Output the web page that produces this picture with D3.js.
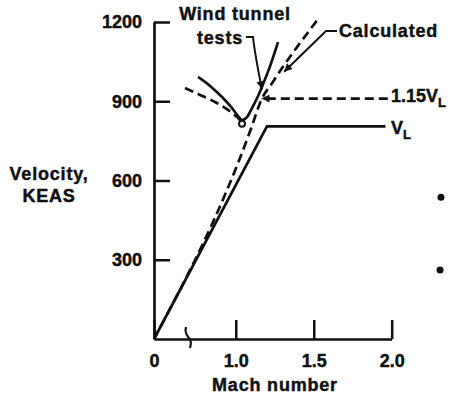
<!DOCTYPE html>
<html>
<head>
<meta charset="utf-8">
<script src="https://cdn.jsdelivr.net/npm/d3@7"></script>
<style>
  body { margin: 0; background: #fff; }
  text { font-family: "Liberation Sans", Arial, Helvetica, sans-serif; font-weight: bold; fill: #111; stroke: #111; stroke-width: 0.45px; }
</style>
</head>
<body>
<div id="chart"></div>
<script>
// data
const yTicks = [300, 600, 900, 1200];
const xTicks = [0, 1.0, 1.5, 2.0];

const vlMach = [0, 1.2, 1.96];
const vlKeas = [0, 805, 805];

const calcMach = [0, 1.10, 1.16, 1.24, 1.52];
const calcKeas = [0, 800, 900, 975, 1205];

const windMach = [0.758, 0.835, 0.912, 0.976, 1.014, 1.040, 1.072, 1.104, 1.143, 1.175, 1.220, 1.271];
const windKeas = [992, 958, 916, 874, 844, 829, 840, 874, 920, 965, 1033, 1124];

const vl115Mach = [0.62, 0.771, 0.867, 0.950, 1.008, 1.040];
const vl115Keas = [950, 924, 897, 867, 840, 821];
const vl115LineMach = [1.165, 1.975];
const vl115LineKeas = [910, 910];

const strayMach = [2.316, 2.31];
const strayKeas = [537, 261];

const W = 454, H = 402;
const svg = d3.select("#chart").append("svg")
  .attr("width", W)
  .attr("height", H);

// x axis is broken between 0 and ~0.7
const x = d3.scaleLinear().domain([0, 0.7, 2.0]).range([154, 189, 391.7]);
const y = d3.scaleLinear().domain([0, 1200]).range([339, 22]);

const zip = (a, b) => a.map((d, i) => [d, b[i]]);

svg.append("defs").append("marker")
  .attr("id", "head")
  .attr("viewBox", "0 0 10 10")
  .attr("refX", 10).attr("refY", 5)
  .attr("markerWidth", 11).attr("markerHeight", 8)
  .attr("markerUnits", "userSpaceOnUse")
  .attr("orient", "auto-start-reverse")
  .append("path")
    .attr("d", "M0,0 L10,5 L0,10 z")
    .attr("fill", "#111");

// axes
const yAxis = svg.append("g")
  .attr("transform", `translate(${x(0)},0)`)
  .call(d3.axisLeft(y).tickValues(yTicks).tickSize(-16).tickSizeOuter(0).tickPadding(12)
    .tickFormat(d3.format("d")));
const xAxis = svg.append("g")
  .attr("transform", `translate(0,${y(0)})`)
  .call(d3.axisBottom(x).tickValues(xTicks).tickSize(-19).tickSizeOuter(0).tickPadding(15)
    .tickFormat(d => d === 0 ? "0" : d.toFixed(1)));

[yAxis, xAxis].forEach(a => {
  a.select(".domain").attr("stroke", "#111").attr("stroke-width", 2.7);
  a.selectAll(".tick line").attr("stroke", "#111").attr("stroke-width", 2.5);
  a.selectAll(".tick text").style("font-size", "18px").attr("fill", "#111");
});

// axis break mark
svg.append("path")
  .attr("d", `M${x(0.7) - 3},${y(0) - 12} C${x(0.7) - 6},${y(0) - 1} ${x(0.7) + 5},${y(0) - 3} ${x(0.7) + 1},${y(0) + 9}`)
  .attr("fill", "none").attr("stroke", "#111").attr("stroke-width", 2.2);

// axis titles
svg.append("text").attr("x", 49).attr("y", 180).attr("text-anchor", "middle")
  .style("font-size", "18px").style("letter-spacing", "0.8px").text("Velocity,");
svg.append("text").attr("x", 49).attr("y", 202).attr("text-anchor", "middle")
  .style("font-size", "18px").style("letter-spacing", "0.8px").text("KEAS");
svg.append("text").attr("x", 275).attr("y", 391).attr("text-anchor", "middle")
  .style("font-size", "18px").style("letter-spacing", "0.8px").text("Mach number");

const line = d3.line().x(d => x(d[0])).y(d => y(d[1]));
const smooth = d3.line().x(d => x(d[0])).y(d => y(d[1])).curve(d3.curveMonotoneX);

// V_L
svg.append("path").datum(zip(vlMach, vlKeas))
  .attr("d", line).attr("fill", "none").attr("stroke", "#111").attr("stroke-width", 2.7);

// calculated
svg.append("path").datum(zip(calcMach, calcKeas))
  .attr("d", smooth).attr("fill", "none").attr("stroke", "#111").attr("stroke-width", 2.7)
  .attr("stroke-dasharray", "9,5");

// 1.15 V_L
svg.append("path").datum(zip(vl115Mach, vl115Keas))
  .attr("d", smooth).attr("fill", "none").attr("stroke", "#111").attr("stroke-width", 2.7)
  .attr("stroke-dasharray", "9,5");
svg.append("path").datum(zip(vl115LineMach, vl115LineKeas).reverse())
  .attr("d", line).attr("fill", "none").attr("stroke", "#111").attr("stroke-width", 2.7)
  .attr("stroke-dasharray", "9,5").attr("marker-end", "url(#head)");

// wind tunnel tests
svg.append("path").datum(zip(windMach, windKeas))
  .attr("d", smooth).attr("fill", "none").attr("stroke", "#111").attr("stroke-width", 2.7);
svg.append("circle")
  .attr("cx", x(1.04)).attr("cy", y(815)).attr("r", 3)
  .attr("fill", "#fff").attr("stroke", "#111").attr("stroke-width", 2);

// stray dots from the page
svg.selectAll(".stray").data(zip(strayMach, strayKeas)).join("circle")
  .attr("class", "stray")
  .attr("cx", d => x(d[0])).attr("cy", d => y(d[1])).attr("r", 3.5).attr("fill", "#111");

// labels
svg.append("text").attr("x", 235).attr("y", 20).attr("text-anchor", "middle")
  .style("font-size", "18px").style("letter-spacing", "0.8px").text("Wind tunnel");
svg.append("text").attr("x", 220).attr("y", 44).attr("text-anchor", "middle")
  .style("font-size", "18px").style("letter-spacing", "0.8px").text("tests");
svg.append("path")
  .attr("d", `M246,37 H253 Q255,55 ${x(1.168)},${y(945)}`)
  .attr("fill", "none").attr("stroke", "#111").attr("stroke-width", 2)
  .attr("marker-end", "url(#head)");

svg.append("text").attr("x", 339).attr("y", 37)
  .style("font-size", "18px").style("letter-spacing", "0.8px").text("Calculated");
svg.append("path")
  .attr("d", `M337,31 H326 L${x(1.31)},${y(1012)}`)
  .attr("fill", "none").attr("stroke", "#111").attr("stroke-width", 2)
  .attr("marker-end", "url(#head)");

const t1 = svg.append("text").attr("x", 391).attr("y", 102).style("font-size", "18px");
t1.append("tspan").text("1.15V");
t1.append("tspan").attr("dy", 5).style("font-size", "13px").text("L");

const t2 = svg.append("text").attr("x", 391).attr("y", 134).style("font-size", "18px");
t2.append("tspan").text("V");
t2.append("tspan").attr("dy", 5).style("font-size", "13px").text("L");
</script>
</body>
</html>
